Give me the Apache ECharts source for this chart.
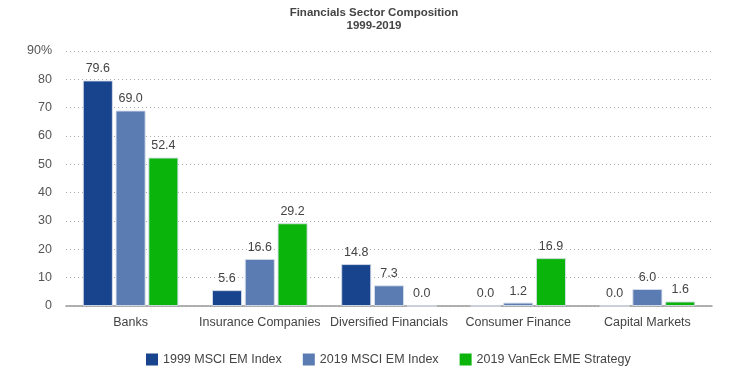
<!DOCTYPE html>
<html><head><meta charset="utf-8">
<script src="https://cdn.jsdelivr.net/npm/echarts@6/dist/echarts.min.js"></script>
<style>html,body{margin:0;padding:0;background:#fff}#c{width:748px;height:380px}</style>
</head><body><div id="c"></div>
<script>
const categories = ["Banks","Insurance Companies","Diversified Financials","Consumer Finance","Capital Markets"];
const seriesNames = ["1999 MSCI EM Index","2019 MSCI EM Index","2019 VanEck EME Strategy"];
const msci1999 = [79.6, 5.6, 14.8, 0.0, 0.0];
const msci2019 = [69.0, 16.6, 7.3, 1.2, 6.0];
const vaneck2019 = [52.4, 29.2, 0.0, 16.9, 1.6];
const yTicks = [0, 10, 20, 30, 40, 50, 60, 70, 80, 90];
const colors = ["#17448c", "#5b7cb2", "#0bb40b"];
const font = "Liberation Sans, Arial, sans-serif";
const chart = echarts.init(document.getElementById('c'));
const mk = (name, data, color) => ({
  name, type: 'bar', data,
  barGap: '9%', barCategoryGap: '26%',
  itemStyle: { color, borderColor: 'rgba(215,222,235,0.9)', borderWidth: 1 },
  label: { show: true, position: 'top', distance: 5, formatter: p => p.value.toFixed(1),
    color: '#444', fontSize: 12.5, fontFamily: font }
});
chart.setOption({
  animation: false,
  title: { text: 'Financials Sector Composition\n1999-2019', left: 'center', top: 1,
    textStyle: { fontSize: 11.5, fontWeight: 'bold', color: '#444', fontFamily: font, lineHeight: 13 } },
  grid: { left: 66, right: 36, top: 51, bottom: 74 },
  legend: { left: 141, top: 348, itemWidth: 12, itemHeight: 12, itemGap: 21, icon: 'rect',
    itemStyle: { borderWidth: 0 },
    textStyle: { fontSize: 12.5, color: '#444', fontFamily: font }, data: seriesNames },
  xAxis: { type: 'category', data: categories,
    axisLine: { lineStyle: { color: '#999', width: 1.5 } }, axisTick: { show: false },
    axisLabel: { interval: 0, fontSize: 12.5, color: '#444', fontFamily: font, margin: 10 } },
  yAxis: { type: 'value', min: yTicks[0], max: yTicks[yTicks.length - 1], interval: 10,
    axisLabel: { fontSize: 12.5, color: '#555', fontFamily: font, margin: 14,
      formatter: v => v === 90 ? '90%' : String(v) },
    splitLine: { lineStyle: { color: '#aaa', type: [1, 3] } } },
  series: [mk(seriesNames[0], msci1999, colors[0]), mk(seriesNames[1], msci2019, colors[1]), mk(seriesNames[2], vaneck2019, colors[2])]
});
</script></body></html>
